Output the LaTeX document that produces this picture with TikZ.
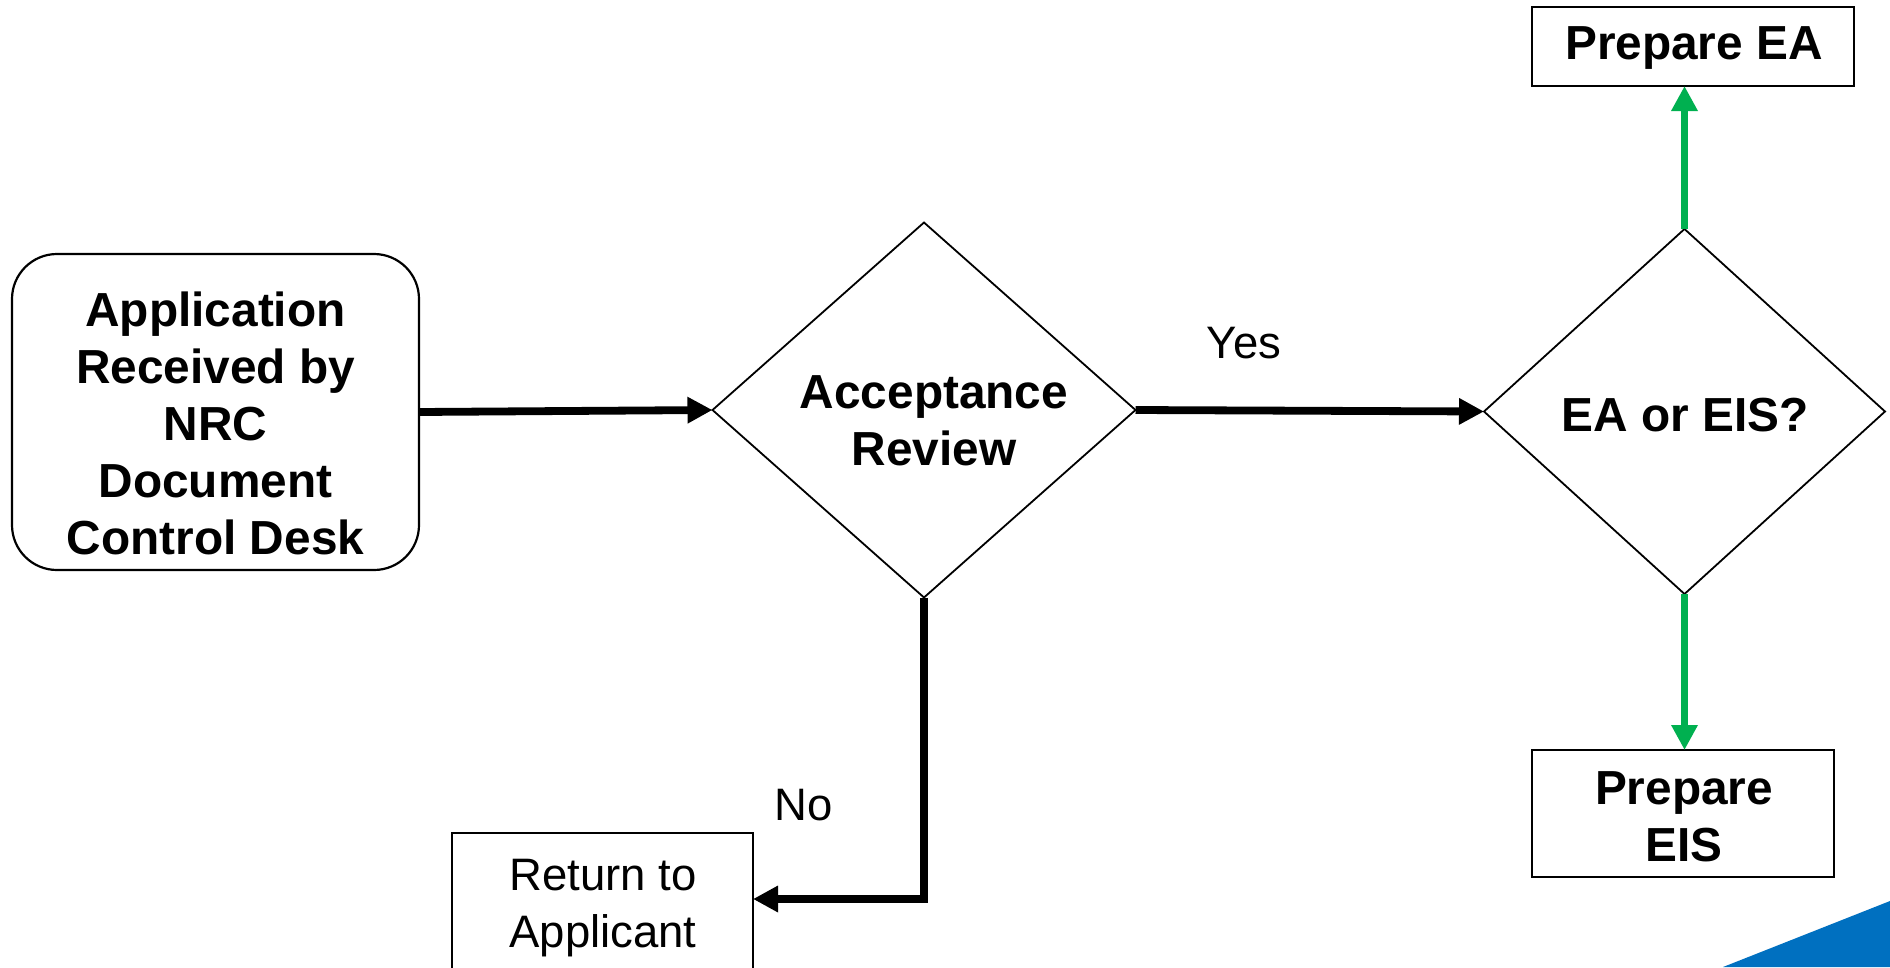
\documentclass[tikz,border=0pt]{standalone}
\usepackage{fontspec}
\setmainfont{Liberation Sans}
\usetikzlibrary{shapes.geometric,arrows.meta}
\definecolor{eagreen}{HTML}{00B050}
\definecolor{nrcblue}{HTML}{0070C0}
\begin{document}
\begin{tikzpicture}[x=1pt,y=-1pt,
  box/.style={draw, line width=2.2pt, inner sep=0pt, outer sep=0pt},
  decision/.style={draw, diamond, line width=1.8pt, inner sep=0pt, outer sep=0pt},
  boldtxt/.style={font=\fontsize{47.8}{57}\selectfont\bfseries, align=center, inner sep=0pt},
  plaintxt/.style={font=\fontsize{45.5}{57}\selectfont, align=center, inner sep=0pt},
  flow/.style={line width=7.8pt, -{Triangle[length=25pt,width=25pt]}}]
\clip (0,0) rectangle (1890,967);
\fill[white] (0,0) rectangle (1890,967);
\fill[nrcblue] (1723,967) -- (1890,901) -- (1890,967) -- cycle;

% nodes
\node[box, rounded corners=45pt, minimum width=407pt, minimum height=316pt] (app) at (215.5,412) {};
\node[boldtxt] (appt) at (215.5,423) {Application\\Received by\\NRC\\Document\\Control Desk};

\node[decision, minimum width=423pt, minimum height=375pt] (acc) at (924,410) {};
\node[boldtxt] (acct) at (934,421) {Acceptance\\Review};

\node[decision, minimum width=401pt, minimum height=365pt] (dec) at (1684.5,411.5) {};
\node[boldtxt] (dect) at (1685,415) {EA or EIS?};

\node[box, minimum width=322pt, minimum height=79pt] (ea) at (1693,46.5) {};
\node[boldtxt] (eat) at (1694,48) {Prepare EA};

\node[box, minimum width=302pt, minimum height=127pt] (eis) at (1683,813.5) {};
\node[boldtxt] (eist) at (1684,817) {Prepare\\EIS};

\node[box, minimum width=301pt, minimum height=157pt] (ret) at (602.5,911.5) {};
\node[plaintxt] (rett) at (603,908) {Return to\\Applicant};

% labels
\node[plaintxt] (yes) at (1244,343) {Yes};
\node[plaintxt] (no) at (804,805) {No};

% connectors
\draw[flow] (app.east) -- (acc.west);
\draw[flow] (acc.east) -- (dec.west);
\draw[flow] (acc.south) |- ([yshift=12.5pt]ret.east);
\draw[flow, eagreen] (dec.north) -- (dec.north |- ea.south);
\draw[flow, eagreen] (dec.south) -- (dec.south |- eis.north);
\end{tikzpicture}
\end{document}
